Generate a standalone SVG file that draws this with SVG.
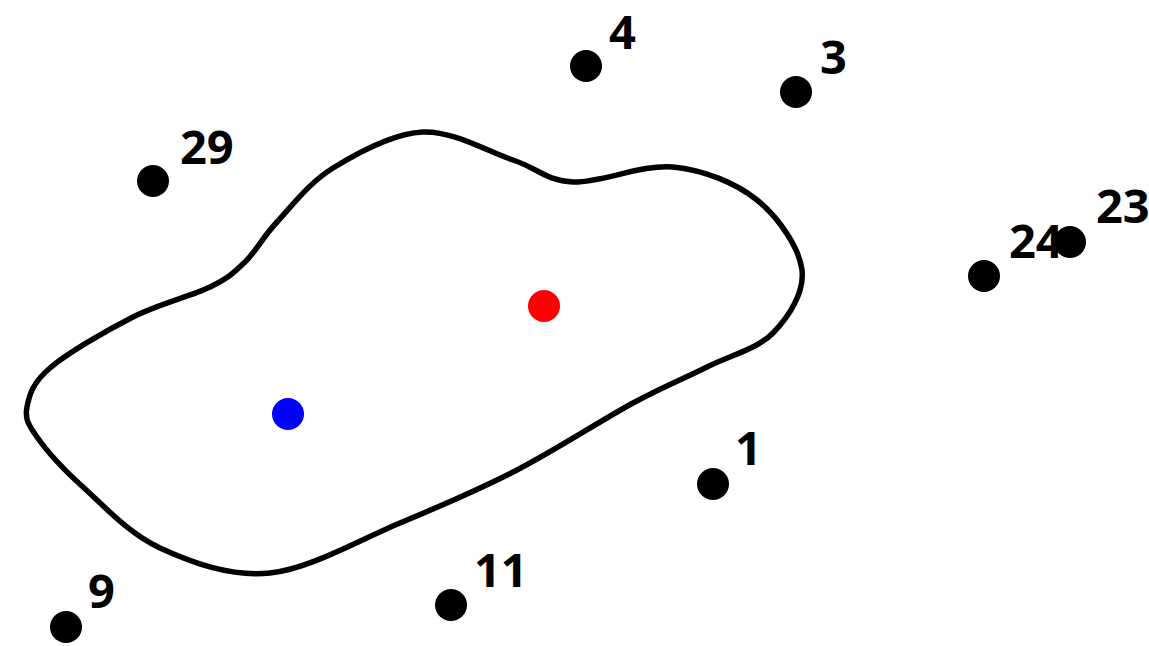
<svg xmlns="http://www.w3.org/2000/svg" width="1149" height="646" viewBox="0 0 1149 646">
<style>
.pt{fill:#000}
.lbl{font-family:"Open Sans","Noto Sans","DejaVu Sans",sans-serif;font-weight:700;font-size:47px;fill:#000}
.blob{fill:none;stroke:#000;stroke-width:5.5}
</style>
<rect width="1149" height="646" fill="#fff"/>
<g id="region">
<path class="blob" d="M27,407 C29.2,395.5 32.3,383 50,368 C67.7,353 106.3,330.5 133,317 C159.7,303.5 191.3,296.2 210,287 C228.7,277.8 233.8,272.8 245,262 C256.2,251.2 262.3,237.7 277,222 C291.7,206.3 308.7,183 333,168 C357.3,153 393,133.3 423,132 C453,130.7 488,151.7 513,160 C538,168.3 546.3,180.8 573,182 C599.7,183.2 642.3,164 673,167 C703.7,170 735.5,182.8 757,200 C778.5,217.2 799.3,247.8 802,270 C804.7,292.2 788.8,316.8 773,333 C757.2,349.2 730.3,355.3 707,367 C683.7,378.7 664.7,385.8 633,403 C601.3,420.2 555.8,450 517,470 C478.2,490 441.2,505.8 400,523 C358.8,540.2 310,568.8 270,573 C230,577.2 191.2,562.3 160,548 C128.8,533.7 103.5,505.5 83,487 C62.5,468.5 46.3,450.3 37,437 C27.7,423.7 24.8,418.5 27,407 Z"/>
</g>
<g id="red"><circle cx="544" cy="306" r="16" fill="#ff0000"/></g>
<g id="blue"><circle cx="288" cy="414" r="16" fill="#0000ff"/></g>
<g id="n4"><circle class="pt" cx="586" cy="66" r="16"/><text class="lbl" x="609" y="49">4</text></g>
<g id="n3"><circle class="pt" cx="796" cy="92" r="16"/><text class="lbl" x="820" y="74">3</text></g>
<g id="n29"><circle class="pt" cx="153" cy="181" r="16"/><text class="lbl" x="180" y="164">29</text></g>
<g id="n24"><circle class="pt" cx="984" cy="276" r="16"/><text class="lbl" x="1009" y="258">24</text></g>
<g id="n23"><circle class="pt" cx="1070" cy="242" r="16"/><text class="lbl" x="1096" y="223">23</text></g>
<g id="n1"><circle class="pt" cx="713" cy="484" r="16"/><text class="lbl" x="735" y="465">1</text></g>
<g id="n11"><circle class="pt" cx="451" cy="605" r="16"/><text class="lbl" x="474" y="587">11</text></g>
<g id="n9"><circle class="pt" cx="66" cy="627" r="16"/><text class="lbl" x="88" y="608">9</text></g>
<g id="connectors"></g>
</svg>
